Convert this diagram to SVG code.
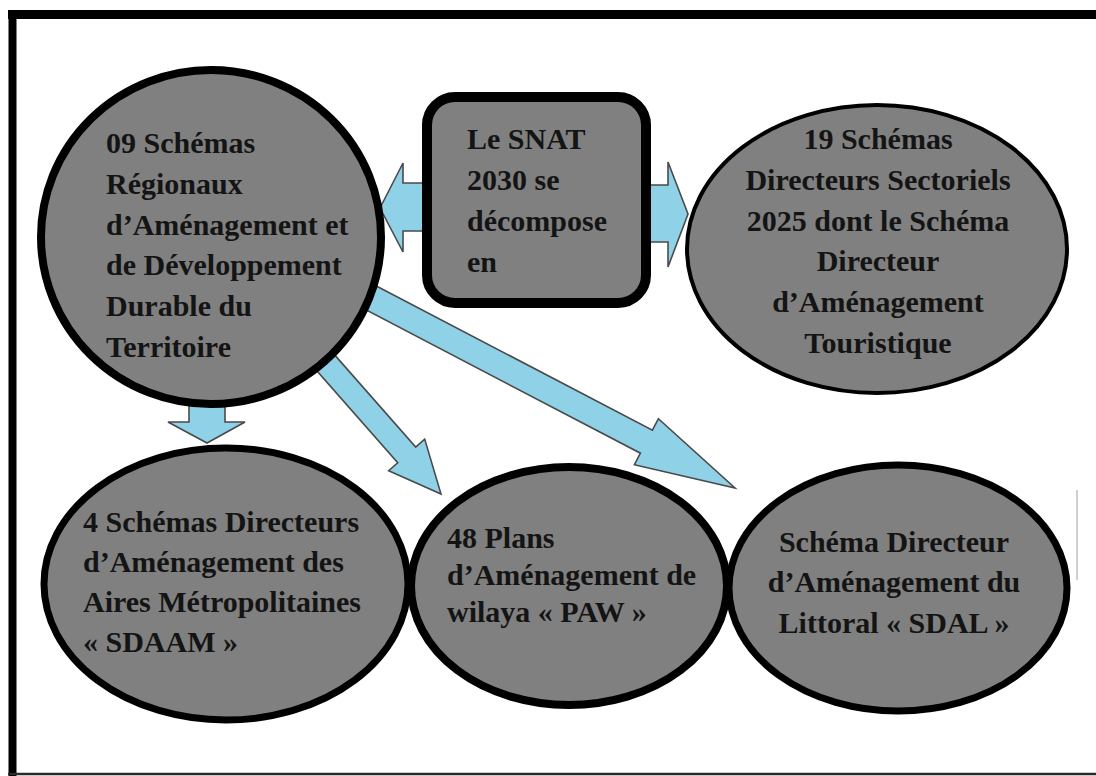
<svg xmlns="http://www.w3.org/2000/svg" width="1096" height="776" viewBox="0 0 1096 776">
<style>
  .node { fill: #808080; stroke: #000; }
  .arrow { fill: #8fd2e8; stroke: #4a4a4a; stroke-width: 1.6; stroke-linejoin: miter; }
  .t { font-family: "Liberation Serif", "Times New Roman", serif; font-weight: bold; font-size: 30px; fill: #141414; }
  .c { text-anchor: middle; }
</style>
<rect x="0" y="0" width="1096" height="776" fill="#ffffff"/>
<g id="frame">
  <line x1="12.5" y1="10" x2="12.5" y2="776" stroke="#000" stroke-width="8"/>
  <line x1="8" y1="14.5" x2="1096" y2="14.5" stroke="#000" stroke-width="9"/>
  <line x1="8" y1="774" x2="1096" y2="774" stroke="#2a2a2a" stroke-width="2.5"/>
  <line x1="1077" y1="490" x2="1077" y2="580" stroke="#d0d0d0" stroke-width="2"/>
</g>
<g id="connectors">
  <polygon class="arrow" points="380,208 403,163 403,183 432,183 432,231 403,231 403,252"/>
  <polygon class="arrow" points="646,185 668,185 668,162 688,214 668,267 668,242 646,242"/>
  <polygon class="arrow" points="189,392 225,392 225,422 245,422 207,443 168,422 189,422"/>
  <polygon class="arrow" points="319.0,337.1 415.7,447.0 424.7,439.1 441,494 388.7,470.7 397.7,462.8 301.0,352.9"/>
  <polygon class="arrow" points="362.0,278.5 652.4,430.2 658.4,418.7 735,488 634.4,464.7 640.4,453.2 350.0,301.5"/>
</g>
<g id="node-srat">
  <ellipse class="node" cx="211" cy="237" rx="170" ry="167" stroke-width="8"/>
  <text class="t" x="106" y="153">09 Schémas</text>
  <text class="t" x="106" y="194">Régionaux</text>
  <text class="t" x="106" y="235">d’Aménagement et</text>
  <text class="t" x="106" y="275">de Développement</text>
  <text class="t" x="106" y="316">Durable du</text>
  <text class="t" x="106" y="357">Territoire</text>
</g>
<g id="node-snat">
  <rect class="node" x="427" y="97" width="219" height="206" rx="28" ry="28" stroke-width="10"/>
  <text class="t" x="467" y="149">Le SNAT</text>
  <text class="t" x="467" y="190">2030 se</text>
  <text class="t" x="467" y="231">décompose</text>
  <text class="t" x="467" y="272">en</text>
</g>
<g id="node-sds">
  <ellipse class="node" cx="877" cy="249" rx="190" ry="144" stroke-width="4"/>
  <text class="t c" x="878" y="149">19 Schémas</text>
  <text class="t c" x="878" y="190">Directeurs Sectoriels</text>
  <text class="t c" x="878" y="231">2025 dont le Schéma</text>
  <text class="t c" x="878" y="271">Directeur</text>
  <text class="t c" x="878" y="312">d’Aménagement</text>
  <text class="t c" x="878" y="353">Touristique</text>
</g>
<g id="node-sdaam">
  <ellipse class="node" cx="226" cy="584" rx="182" ry="136" stroke-width="7"/>
  <text class="t" x="83" y="532">4 Schémas Directeurs</text>
  <text class="t" x="83" y="572">d’Aménagement des</text>
  <text class="t" x="83" y="612">Aires Métropolitaines</text>
  <text class="t" x="83" y="652">« SDAAM »</text>
</g>
<g id="node-paw">
  <ellipse class="node" cx="569" cy="586" rx="158" ry="119" stroke-width="8"/>
  <text class="t" x="447" y="548">48 Plans</text>
  <text class="t" x="447" y="585">d’Aménagement de</text>
  <text class="t" x="447" y="622">wilaya « PAW »</text>
</g>
<g id="node-sdal">
  <ellipse class="node" cx="898" cy="588" rx="169" ry="123" stroke-width="7"/>
  <text class="t c" x="894" y="552">Schéma Directeur</text>
  <text class="t c" x="894" y="592">d’Aménagement du</text>
  <text class="t c" x="894" y="633">Littoral « SDAL »</text>
</g>
</svg>
